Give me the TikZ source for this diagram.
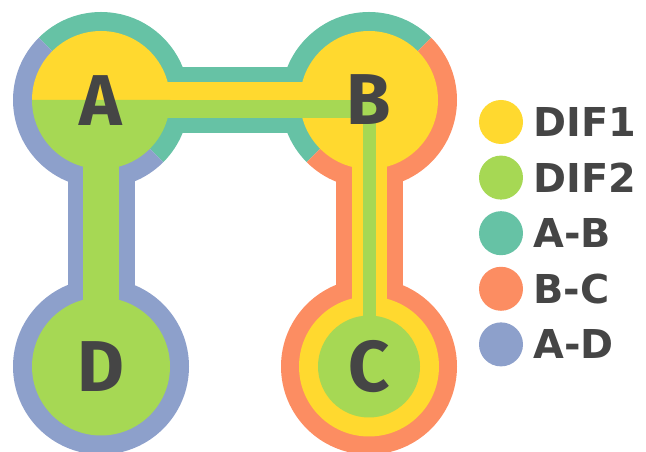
\documentclass[tikz,border=0pt]{standalone}
\usepackage{fontspec}
\setmainfont{Fira Sans}
\newfontfamily\legfont{DejaVu Sans}
\usetikzlibrary{calc}
\definecolor{yel}{HTML}{FFD92F}
\definecolor{grn}{HTML}{A6D854}
\definecolor{tealc}{HTML}{66C2A5}
\definecolor{orng}{HTML}{FC8D62}
\definecolor{blu}{HTML}{8DA0CB}
\definecolor{txt}{HTML}{454545}
\begin{document}
\begin{tikzpicture}[x=1pt,y=1pt,
  lbl/.style={font=\fontsize{72}{72}\selectfont\bfseries, text=txt, inner sep=0pt, anchor=base},
  leg/.style={font=\legfont\fontsize{39.8}{40}\selectfont\bfseries, text=txt, inner sep=0pt, anchor=base west},
  key/.style={circle, minimum size=44pt, inner sep=0pt}]
\useasboundingbox (0,0) rectangle (646,452);
\coordinate (A) at (101,352);
\coordinate (B) at (369,352);
\coordinate (C) at (369,85.5);
\coordinate (D) at (101,85.5);
% outer bands
\draw[tealc, line width=66pt] (A) -- (B);
\draw[blu, line width=67pt] (A) -- (D);
\draw[orng, line width=67pt] (B) -- (C);
% outer rings
\fill[tealc] (A) -- ++(-45:88) arc[start angle=-45, end angle=135, radius=88] -- cycle;
\fill[blu] (A) -- ++(135:88) arc[start angle=135, end angle=315, radius=88] -- cycle;
\fill[tealc] (B) -- ++(45:88) arc[start angle=45, end angle=225, radius=88] -- cycle;
\fill[orng] (B) -- ++(225:88) arc[start angle=225, end angle=405, radius=88] -- cycle;
\fill[orng] (C) circle (88);
\fill[blu] (D) circle (88);
% inner bands
\fill[yel] (A) rectangle ($(B)+(0,18)$);
\draw[yel, line width=35pt] (B) -- (C);
\draw[grn, line width=36pt] (A) -- (D);
% inner discs
\fill[yel] (A) -- ++(0:69) arc[start angle=0, end angle=180, radius=69] -- cycle;
\fill[grn] (A) -- ++(180:69) arc[start angle=180, end angle=360, radius=69] -- cycle;
\fill[yel] (B) circle (69);
\fill[yel] (C) circle (70);
\fill[grn] (D) circle (69);
% DIF2 path through B to C
\fill[grn] (A) rectangle ($(B)+(6.5,-18)$);
\draw[grn, line width=13pt] (B) -- (C);
\fill[grn] (C) circle (51);
% letters
\node[lbl] (lA) at ($(A)+(0,-26)$) {A};
\node[lbl] (lB) at ($(B)+(0,-25)$) {B};
\node[lbl] (lC) at ($(C)+(0,-25.5)$) {C};
\node[lbl] (lD) at ($(D)+(0,-25.5)$) {D};
% legend
\node[key, fill=yel] (k1) at (501,330) {};
\node[key, fill=grn] (k2) at (501,274.4) {};
\node[key, fill=tealc] (k3) at (501,218.8) {};
\node[key, fill=orng] (k4) at (501,163.2) {};
\node[key, fill=blu] (k5) at (501,107.6) {};
\node[leg] (t1) at ($(k1)+(32,-14.5)$) {DIF1};
\node[leg] (t2) at ($(k2)+(32,-14.5)$) {DIF2};
\node[leg] (t3) at ($(k3)+(32,-14.5)$) {A-B};
\node[leg] (t4) at ($(k4)+(32,-14.5)$) {B-C};
\node[leg] (t5) at ($(k5)+(32,-14.5)$) {A-D};
\end{tikzpicture}
\end{document}
